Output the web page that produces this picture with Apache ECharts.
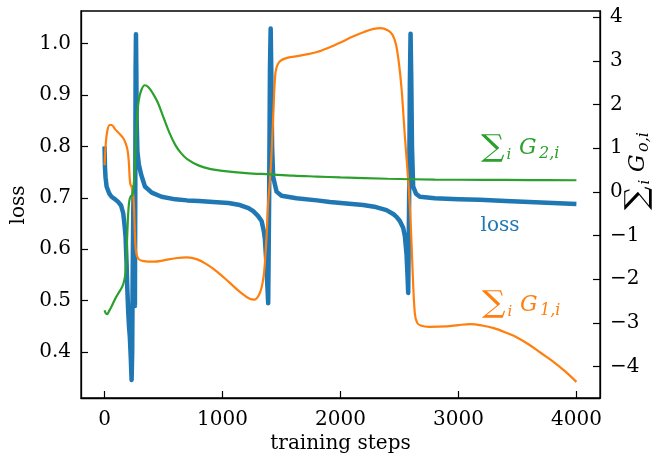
<!DOCTYPE html>
<html><head><meta charset="utf-8">
<script src="https://cdn.jsdelivr.net/npm/echarts@6/dist/echarts.min.js"></script>
<style>html,body{margin:0;padding:0;background:#fff}#c{width:660px;height:457px}</style>
</head><body><div id="c"></div>
<script>
// ---- data ----
const lossSteps = [0,3,8,17,40,59,90,115,140,158,170,178,186,192,200,207,214,222,229,234,238,242,246,250,254,257,260,263,266,269,272,278,290,310,342,400,483,600,700,800,921,1050,1147,1220,1260,1300,1331,1350,1359,1370,1380,1387,1395,1402,1408,1413,1420,1429,1458,1500,1627,1800,1910,2050,2192,2300,2390,2450,2475,2503,2531,2546,2560,2568,2574,2582,2588,2594,2600,2606,2616,2640,2673,2800,3000,3181,3400,3600,3800,4000];
const lossValues = [0.800,0.760,0.740,0.722,0.708,0.702,0.697,0.692,0.685,0.670,0.645,0.624,0.575,0.527,0.480,0.450,0.430,0.390,0.346,0.400,0.550,0.650,0.720,0.700,0.550,0.490,0.700,0.950,1.018,0.950,0.850,0.790,0.765,0.745,0.722,0.710,0.702,0.697,0.695,0.694,0.692,0.690,0.686,0.680,0.674,0.665,0.655,0.635,0.620,0.580,0.530,0.495,0.700,0.950,1.029,0.950,0.800,0.741,0.712,0.704,0.699,0.695,0.692,0.689,0.686,0.682,0.676,0.668,0.663,0.655,0.642,0.625,0.590,0.550,0.515,0.700,0.920,1.019,0.930,0.800,0.722,0.708,0.702,0.699,0.697,0.696,0.694,0.692,0.690,0.688];

const g1Steps = [0,10,25,45,60,90,130,160,180,195,205,212,218,228,236,244,250,256,262,270,285,320,420,500,600,700,780,860,950,1060,1160,1230,1270,1305,1330,1350,1362,1373,1387,1400,1410,1420,1430,1440,1450,1465,1490,1540,1620,1700,1800,1900,2000,2100,2200,2280,2340,2400,2440,2470,2495,2518,2546,2574,2594,2611,2630,2650,2680,2750,2900,3000,3100,3200,3300,3400,3500,3600,3700,3800,3900,4000];
const g1Values = [0.61,1.10,1.42,1.53,1.53,1.43,1.32,1.22,1.10,0.95,0.70,0.35,0.18,0.12,0.05,-0.10,-0.40,-0.90,-1.25,-1.42,-1.53,-1.58,-1.60,-1.57,-1.52,-1.50,-1.54,-1.65,-1.82,-2.08,-2.32,-2.45,-2.47,-2.38,-2.20,-1.90,-1.50,-1.03,-0.25,0.20,0.60,1.15,1.75,2.40,2.75,2.90,3.00,3.06,3.10,3.14,3.20,3.30,3.42,3.55,3.66,3.73,3.75,3.70,3.60,3.38,2.95,2.35,1.26,0.27,-0.65,-1.79,-2.78,-3.00,-3.06,-3.09,-3.08,-3.05,-3.03,-3.06,-3.12,-3.22,-3.34,-3.50,-3.69,-3.88,-4.10,-4.35];

const g2Steps = [0,10,20,40,60,90,115,140,160,175,185,192,200,210,222,235,245,255,265,275,290,310,340,370,410,450,500,550,600,650,700,800,900,1000,1200,1400,1600,1800,2000,2400,2800,3200,3600,4000];
const g2Values = [-2.71,-2.78,-2.80,-2.72,-2.62,-2.45,-2.33,-2.22,-2.10,-1.90,-1.50,-1.00,-0.50,-0.20,-0.10,-0.08,0.10,0.50,1.10,1.70,2.10,2.32,2.44,2.40,2.25,2.05,1.70,1.35,1.07,0.88,0.75,0.60,0.52,0.48,0.43,0.40,0.37,0.35,0.33,0.30,0.28,0.275,0.27,0.265];

const xTicks = [0,1000,2000,3000,4000];
const lossTicks = [0.4,0.5,0.6,0.7,0.8,0.9,1.0];
const gTicks = [-4,-3,-2,-1,0,1,2,3,4];

// ---- chart ----
const FONT = 'DejaVu Serif';
const chart = echarts.init(document.getElementById('c'), null, {renderer:'canvas'});
const zip = (a,b)=>a.map((x,i)=>[x,b[i]]);
function mathParts(parts,color){
  return parts.map(p=>({type:'text', x:p.x, y:(p.dy||0)-0.3*p.size, scaleX:p.sx||1,
      style:{text:p.t, fill:color, fontSize:p.size, fontFamily:FONT, fontStyle:p.it?'italic':'normal', align:'left', verticalAlign:'middle'}}));
}
function gLabel(sub){
  return [{t:'\u2211',size:30,x:0,dy:2,sx:1.1},{t:'i',size:15,it:true,x:25.5,dy:5},{t:'G',size:22,it:true,x:38},{t:sub,size:16,it:true,x:58,dy:4}];
}
const tickLabel = {color:'#000', fontFamily:FONT, fontSize:20};
const axLine = {show:true, onZero:false, lineStyle:{color:'#000', width:1.3}};
const tickSt = {show:true, inside:true, length:7, lineStyle:{color:'#000', width:1.2}};

chart.setOption({
  animation:false,
  grid:{left:81, right:60, top:11, bottom:59, show:true, borderColor:'#000', borderWidth:1.3, containLabel:false},
  xAxis:{type:'value', min:-200, max:4200, axisLine:axLine,
    axisTick:Object.assign({customValues:xTicks}, tickSt),
    axisLabel:Object.assign({customValues:xTicks, margin:12, formatter:v=>String(Math.round(v))}, tickLabel),
    splitLine:{show:false}},
  yAxis:[
    {type:'value', position:'left', min:0.311, max:1.063, axisLine:axLine,
     axisTick:Object.assign({customValues:lossTicks}, tickSt),
     axisLabel:Object.assign({customValues:lossTicks, margin:10, formatter:v=>(+v).toFixed(1)}, tickLabel),
     splitLine:{show:false}},
    {type:'value', position:'right', min:-4.72, max:4.14, axisLine:axLine,
     axisTick:Object.assign({customValues:gTicks}, tickSt),
     axisLabel:Object.assign({customValues:gTicks, margin:10, formatter:v=>{v=Math.round(v); return v<0?'\u2212'+Math.abs(v):String(v);}}, tickLabel),
     splitLine:{show:false}}
  ],
  series:[
    {type:'line', name:'loss', yAxisIndex:0, data:zip(lossSteps,lossValues), showSymbol:false, smooth:false,
     lineStyle:{color:'#1f77b4', width:4.5, join:'round'}, z:1},
    {type:'line', name:'G1', yAxisIndex:1, data:zip(g1Steps,g1Values), showSymbol:false, smooth:0.35,
     lineStyle:{color:'#ff7f0e', width:2.2}, z:2},
    {type:'line', name:'G2', yAxisIndex:1, data:zip(g2Steps,g2Values), showSymbol:false, smooth:0.35,
     lineStyle:{color:'#2ca02c', width:2.2}, z:3}
  ],
  graphic:[
    {type:'group', x:481, y:155, children:mathParts(gLabel('2,i'),'#2ca02c')},
    {type:'group', x:482, y:311.5, children:mathParts(gLabel('1,i'),'#ff7f0e')},
    {type:'text', x:500, y:225.5, style:{text:'loss', fill:'#1f77b4', fontSize:20, fontFamily:FONT, align:'center', verticalAlign:'middle'}},
    {type:'group', x:645, y:210, rotation:Math.PI/2, children:mathParts(gLabel('o,i'),'#000')},
    {type:'text', x:19, y:205, rotation:Math.PI/2, style:{text:'loss', fill:'#000', fontSize:20, fontFamily:FONT, align:'center', verticalAlign:'middle'}},
    {type:'text', x:340.5, y:444, style:{text:'training steps', fill:'#000', fontSize:20, fontFamily:FONT, align:'center', verticalAlign:'middle'}}
  ]
});
</script>
</body></html>
